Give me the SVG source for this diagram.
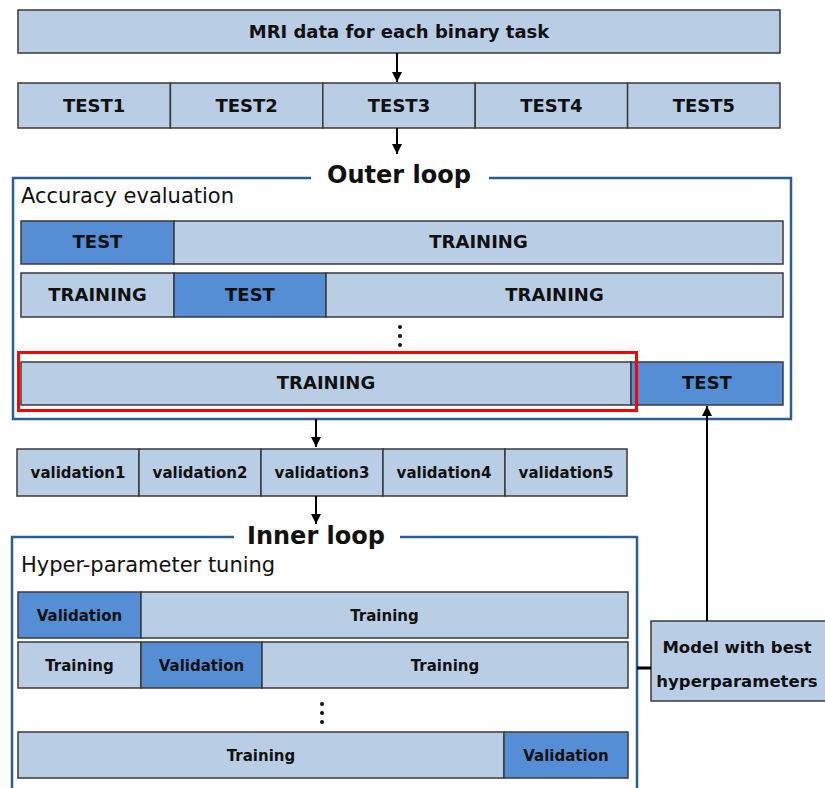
<svg xmlns="http://www.w3.org/2000/svg" width="825" height="788" viewBox="0 0 825 788">
<style>
.lt{fill:#B9CDE5;stroke:#3A3A3A;stroke-width:1.5}
.dk{fill:#558ED5;stroke:#3A3A3A;stroke-width:1.5}
.t{font-family:"DejaVu Sans",sans-serif;font-weight:bold;font-size:18px;fill:#111;text-anchor:middle}
.s{font-size:15px}
.frame{fill:none;stroke:#2F5C8F;stroke-width:2.5}
.title{font-family:"DejaVu Sans",sans-serif;font-weight:bold;font-size:24px;fill:#111;text-anchor:middle}
.sub{font-family:"DejaVu Sans",sans-serif;font-size:21px;fill:#111}
.c{stroke:#000;stroke-width:2;fill:none}
.dot{fill:#111}
</style>
<defs>
<marker id="ah" viewBox="0 0 10 10" refX="10" refY="5" markerWidth="5" markerHeight="5" orient="auto" markerUnits="strokeWidth">
<path d="M0 0 L10 5 L0 10 z" fill="#000"/>
</marker>
</defs>
<rect x="0" y="0" width="825" height="788" fill="#fff"/>

<g id="mri">
<rect class="lt" x="18" y="10" width="762" height="43"/>
<text class="t" x="399" y="38">MRI data for each binary task</text>
</g>

<g id="tests">
<rect class="lt" x="18" y="83" width="152.4" height="45"/>
<rect class="lt" x="170.4" y="83" width="152.4" height="45"/>
<rect class="lt" x="322.8" y="83" width="152.4" height="45"/>
<rect class="lt" x="475.2" y="83" width="152.4" height="45"/>
<rect class="lt" x="627.6" y="83" width="152.4" height="45"/>
<text class="t" x="94.2" y="112">TEST1</text>
<text class="t" x="246.6" y="112">TEST2</text>
<text class="t" x="399" y="112">TEST3</text>
<text class="t" x="551.4" y="112">TEST4</text>
<text class="t" x="703.8" y="112">TEST5</text>
</g>

<g id="outer-loop">
<path class="frame" d="M311 178 H13 V419 H791 V178 H489"/>
<text class="title" x="399" y="183">Outer loop</text>
<text class="sub" x="21" y="203">Accuracy evaluation</text>
</g>

<g id="outer-row1">
<rect class="dk" x="21" y="221" width="153" height="43"/>
<rect class="lt" x="174" y="221" width="609" height="43"/>
<text class="t" x="97.5" y="248">TEST</text>
<text class="t" x="478.5" y="248">TRAINING</text>
</g>

<g id="outer-row2">
<rect class="lt" x="21" y="273" width="153" height="44"/>
<rect class="dk" x="174" y="273" width="152" height="44"/>
<rect class="lt" x="326" y="273" width="457" height="44"/>
<text class="t" x="97.5" y="301">TRAINING</text>
<text class="t" x="250" y="301">TEST</text>
<text class="t" x="554.5" y="301">TRAINING</text>
</g>

<g id="outer-dots">
<circle class="dot" cx="400" cy="327" r="2"/>
<circle class="dot" cx="400" cy="336" r="2"/>
<circle class="dot" cx="400" cy="345" r="2"/>
</g>

<g id="outer-row3">
<rect class="lt" x="21" y="362" width="610" height="43"/>
<rect class="dk" x="631" y="362" width="152" height="43"/>
<text class="t" x="326" y="389">TRAINING</text>
<text class="t" x="707" y="389">TEST</text>
</g>

<g id="highlight">
<rect x="18.5" y="352.5" width="618" height="58" fill="none" stroke="#FF0000" stroke-width="3"/>
</g>

<g id="validations">
<rect class="lt" x="17" y="449" width="122" height="47"/>
<rect class="lt" x="139" y="449" width="122" height="47"/>
<rect class="lt" x="261" y="449" width="122" height="47"/>
<rect class="lt" x="383" y="449" width="122" height="47"/>
<rect class="lt" x="505" y="449" width="122" height="47"/>
<text class="t s" x="78" y="478">validation1</text>
<text class="t s" x="200" y="478">validation2</text>
<text class="t s" x="322" y="478">validation3</text>
<text class="t s" x="444" y="478">validation4</text>
<text class="t s" x="566" y="478">validation5</text>
</g>

<g id="inner-loop">
<path class="frame" d="M234 537 H12 V792 M637 792 V537 H400"/>
<text class="title" x="316" y="544">Inner loop</text>
<text class="sub" x="21" y="572">Hyper-parameter tuning</text>
</g>

<g id="inner-row1">
<rect class="dk" x="18" y="592" width="123" height="46"/>
<rect class="lt" x="141" y="592" width="487" height="46"/>
<text class="t s" x="79.5" y="620.5">Validation</text>
<text class="t s" x="384.5" y="620.5">Training</text>
</g>

<g id="inner-row2">
<rect class="lt" x="18" y="642" width="123" height="46"/>
<rect class="dk" x="141" y="642" width="121" height="46"/>
<rect class="lt" x="262" y="642" width="366" height="46"/>
<text class="t s" x="79.5" y="670.5">Training</text>
<text class="t s" x="201.5" y="670.5">Validation</text>
<text class="t s" x="445" y="670.5">Training</text>
</g>

<g id="inner-dots">
<circle class="dot" cx="322" cy="704" r="2"/>
<circle class="dot" cx="322" cy="713" r="2"/>
<circle class="dot" cx="322" cy="722" r="2"/>
</g>

<g id="inner-row3">
<rect class="lt" x="18" y="732" width="486" height="46"/>
<rect class="dk" x="504" y="732" width="124" height="46"/>
<text class="t s" x="261" y="760.5">Training</text>
<text class="t s" x="566" y="760.5">Validation</text>
</g>

<g id="model">
<rect class="lt" x="651" y="621" width="190" height="80"/>
<text class="t" x="737" y="653" style="font-size:16.5px">Model with best</text>
<text class="t" x="737" y="687" style="font-size:16.5px">hyperparameters</text>
</g>

<g id="connectors">
<line class="c" x1="397" y1="53" x2="397" y2="82" marker-end="url(#ah)"/>
<line class="c" x1="397" y1="128" x2="397" y2="154" marker-end="url(#ah)"/>
<line class="c" x1="316" y1="419" x2="316" y2="447" marker-end="url(#ah)"/>
<line class="c" x1="316" y1="496" x2="316" y2="524" marker-end="url(#ah)"/>
<line class="c" x1="707" y1="621" x2="707" y2="406" marker-end="url(#ah)"/>
<line x1="637" y1="668" x2="651" y2="668" stroke="#000" stroke-width="3"/>
</g>
</svg>
